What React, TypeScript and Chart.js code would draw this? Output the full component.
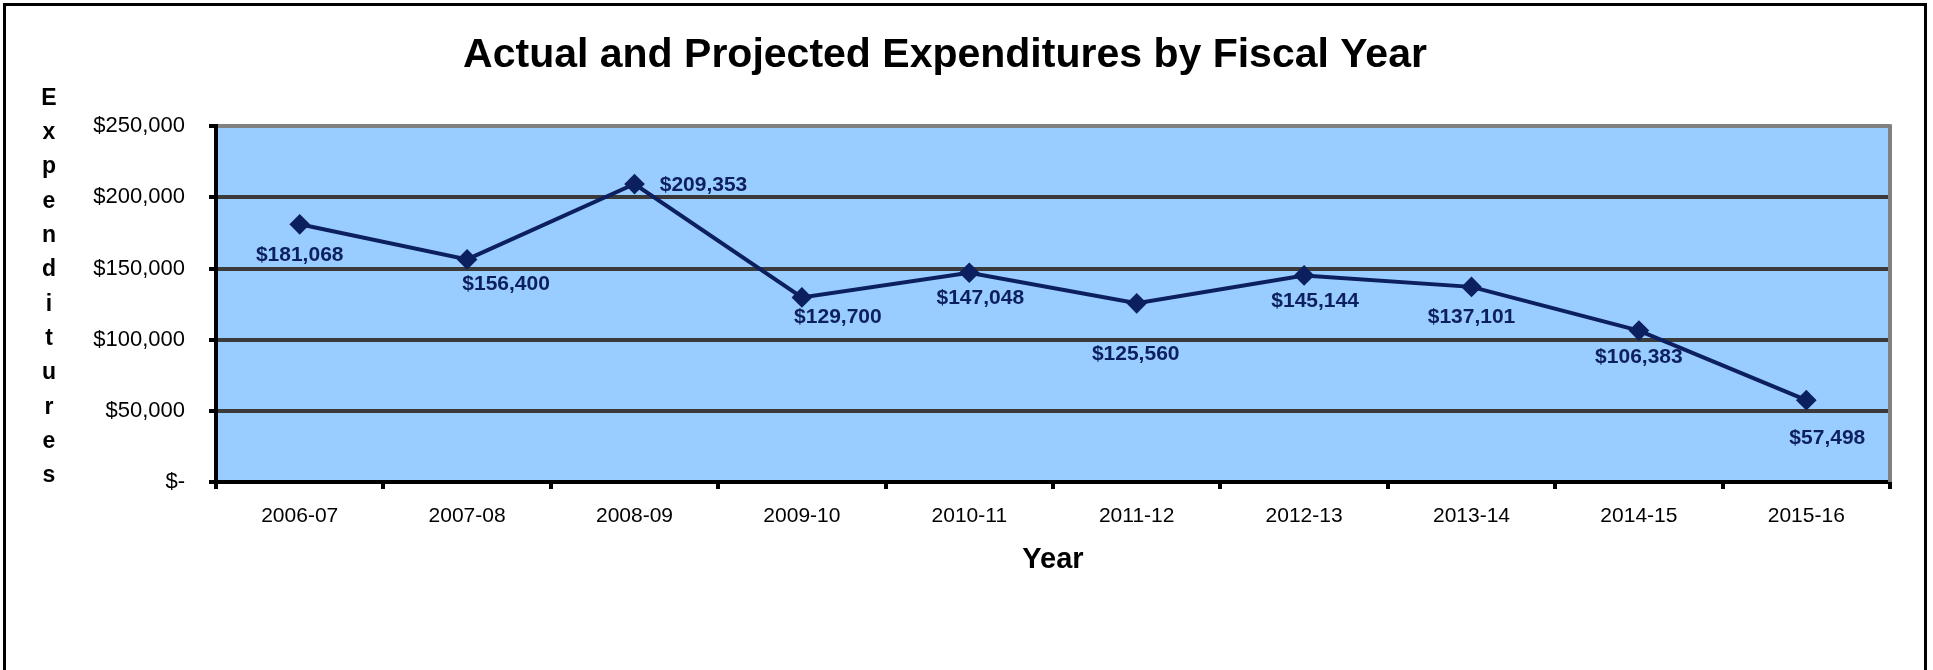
import React, { useEffect, useRef } from "react";
import { Chart, registerables } from "chart.js";

Chart.register(...registerables);

const chartTitle = "Actual and Projected Expenditures by Fiscal Year";
const yAxisTitle = "Expenditures";
const xAxisTitle = "Year";
const categories = [
  "2006-07", "2007-08", "2008-09", "2009-10", "2010-11",
  "2011-12", "2012-13", "2013-14", "2014-15", "2015-16",
];
const expenditures = [181068, 156400, 209353, 129700, 147048, 125560, 145144, 137101, 106383, 57498];
const yMin = 0;
const yMax = 250000;
const yStep = 50000;
// label placement relative to each point (dx, dy in px)
const labelOffsets: [number, number][] = [
  [0, 31], [39, 25], [69, 1], [36, 20], [11, 25],
  [-1, 51], [11, 26], [0, 30], [0, 27], [21, 38],
];

const FONT = "'Liberation Sans', Arial, Helvetica, sans-serif";
const NAVY = "#0c1f5e";

const money = (v: number) => (v === 0 ? "$-" : "$" + v.toLocaleString("en-US"));

const plotBg = {
  id: "plotBg",
  beforeDraw(chart: any) {
    const { ctx, chartArea: a } = chart;
    ctx.save();
    ctx.fillStyle = "#99ccff";
    ctx.fillRect(a.left, a.top, a.right - a.left, a.bottom - a.top);
    ctx.restore();
  },
  beforeDatasetsDraw(chart: any) {
    const { ctx, chartArea: a } = chart;
    ctx.save();
    ctx.strokeStyle = "#808080";
    ctx.lineWidth = 4;
    ctx.beginPath();
    ctx.moveTo(a.right, a.top - 2);
    ctx.lineTo(a.right, a.bottom);
    ctx.stroke();
    ctx.restore();
  },
};

const valueLabels = {
  id: "valueLabels",
  afterDatasetsDraw(chart: any) {
    const { ctx } = chart;
    const meta = chart.getDatasetMeta(0);
    ctx.save();
    ctx.font = `bold 21px ${FONT}`;
    ctx.fillStyle = NAVY;
    ctx.textAlign = "center";
    ctx.textBaseline = "middle";
    meta.data.forEach((pt: any, i: number) => {
      const [dx, dy] = labelOffsets[i];
      ctx.fillText(money(expenditures[i]), pt.x + dx, pt.y + dy);
    });
    ctx.restore();
  },
};

const stackedYTitle = {
  id: "stackedYTitle",
  afterDraw(chart: any) {
    const { ctx, chartArea: a } = chart;
    const letters = yAxisTitle.split("");
    const top = a.top - 28;
    const bottom = a.bottom - 6;
    const step = (bottom - top) / (letters.length - 1);
    ctx.save();
    ctx.font = `bold 23px ${FONT}`;
    ctx.fillStyle = "#000";
    ctx.textAlign = "center";
    ctx.textBaseline = "middle";
    letters.forEach((ch, i) => ctx.fillText(ch, 49, top + step * i));
    ctx.restore();
  },
};

function ExpenditureChart() {
  const ref = useRef<HTMLCanvasElement | null>(null);
  useEffect(() => {
    if (!ref.current) return;
    const chart = new Chart(ref.current, {
      type: "line",
      data: {
        labels: categories,
        datasets: [
          {
            data: expenditures,
            borderColor: NAVY,
            backgroundColor: NAVY,
            borderWidth: 4,
            pointStyle: "rectRot",
            pointRadius: 7.5,
            pointBackgroundColor: NAVY,
            pointBorderColor: NAVY,
            tension: 0,
            clip: false,
          } as any,
        ],
      },
      options: {
        animation: false,
        responsive: false,
        devicePixelRatio: 1,
        layout: { padding: { left: 0, right: 43, top: 0, bottom: 0 } },
        plugins: {
          legend: { display: false },
          tooltip: { enabled: false },
          title: {
            display: true,
            text: chartTitle,
            color: "#000",
            font: { family: FONT, size: 41, weight: "bold" },
            padding: { top: 31, bottom: 46 },
          },
        },
        scales: {
          x: {
            type: "category",
            offset: true,
            grid: {
              offset: true,
              drawOnChartArea: false,
              drawTicks: true,
              tickLength: 7,
              color: "#000",
              lineWidth: 4,
            },
            border: { color: "#000", width: 4 },
            ticks: { color: "#000", font: { family: FONT, size: 21 }, padding: 15, maxRotation: 0 },
            title: {
              display: true,
              text: xAxisTitle,
              color: "#000",
              font: { family: FONT, size: 29, weight: "bold" },
              padding: { top: 0, bottom: 93 },
            },
            afterFit(scale: any) {
              scale.height = 188;
            },
          },
          y: {
            min: yMin,
            max: yMax,
            grid: {
              color: (c: any) => (c.tick && c.tick.value === yMax ? "#808080" : "#3a3a3a"),
              lineWidth: 4,
              drawTicks: true,
              tickLength: 7,
              tickColor: "#000",
            },
            border: { color: "#000", width: 4 },
            ticks: {
              stepSize: yStep,
              color: "#000",
              font: { family: FONT, size: 22 },
              padding: 24,
              callback: (v: any) => money(Number(v)),
            },
            afterFit(scale: any) {
              scale.width = 216;
            },
          },
        },
      },
      plugins: [plotBg, valueLabels, stackedYTitle],
    });
    return () => chart.destroy();
  }, []);
  return <canvas ref={ref} width={1933} height={670} style={{ width: 1933, height: 670, display: "block" }} />;
}

export default function App() {
  return (
    <div style={{ position: "fixed", left: 0, top: 0, width: 1933, height: 670, background: "#fff", overflow: "hidden" }}>
      <ExpenditureChart />
      <div
        style={{
          position: "absolute",
          left: 3,
          top: 3,
          right: 6,
          bottom: -20,
          border: "3px solid #000",
          pointerEvents: "none",
        }}
      />
    </div>
  );
}
